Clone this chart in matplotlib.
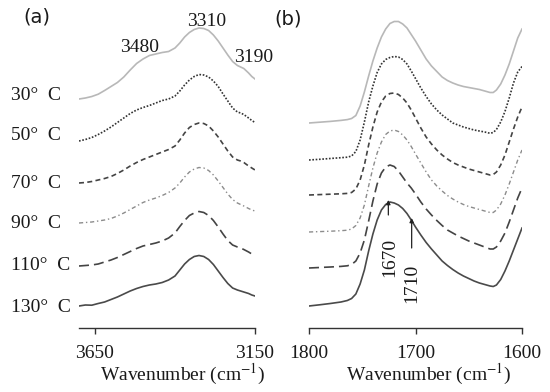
import matplotlib
matplotlib.use('Agg')
import matplotlib.pyplot as plt
import numpy as np

plt.rcParams['font.family'] = ['Liberation Serif', 'DejaVu Serif']
plt.rcParams['mathtext.fontset'] = 'stix'

# -- Data (arbitrary absorbance units) ----------------------------------------
temps = ['30°  C', '50°  C', '70°  C', '90°  C', '110°  C', '130°  C']

# (a) O-H / N-H stretching region
wn_a = [3700, 3680, 3660, 3640, 3620, 3600, 3580, 3560, 3540, 3520, 3500,
        3480, 3460, 3440, 3420, 3400, 3385, 3370, 3355, 3340, 3325, 3310,
        3295, 3280, 3265, 3250, 3235, 3220, 3205, 3195, 3185, 3170, 3160, 3150]
oh_30 = [0, 1, 2.5, 4.8, 8.5, 12.5, 16.5, 22, 29, 35.5, 40, 43.5, 45, 46.5,
         47.5, 51, 56, 62, 66.5, 69.5, 71, 70.5, 68.5, 64, 58, 51, 44, 37.5,
         33.5, 32, 30.5, 26, 22.5, 20]
oh_50 = [0, 1.5, 3.5, 6.5, 10, 14, 18.5, 23, 27.5, 31, 33.5, 35.5, 38, 40.5,
         42, 45, 50, 56, 61, 64.5, 66.5, 66, 64, 60, 54.5, 47, 40, 33, 29, 28,
         26.5, 23, 20.5, 18.5]
oh_70 = [0, 0.5, 1.5, 3, 4.5, 6.5, 9.5, 13, 17, 20.5, 23.5, 26, 28.5, 31,
         33.5, 37, 43, 50, 55.5, 58.5, 60, 59.5, 57, 52, 46, 39, 32, 26, 23,
         22, 20.5, 17, 15, 13]
oh_90 = [0, 0.5, 1, 2, 3, 4.5, 7, 10, 13.5, 17, 20.5, 23, 25, 27.5, 30.5, 35,
         40, 46, 51, 54, 55.5, 55, 52.5, 48, 42, 35.5, 29, 23.5, 20, 18.5, 17,
         14.5, 13, 12]
oh_110 = [0, 0.5, 1, 2, 4, 6, 8.5, 11.5, 14.5, 17.5, 20, 21.5, 23, 25, 28, 33,
          39.5, 45.5, 50.5, 53, 54.5, 53.5, 50.5, 45.5, 39, 32, 25.5, 21, 19,
          18, 16.5, 14, 12, 11]
oh_130 = [0, 1, 0.8, 2.5, 4, 6.5, 9, 12, 15, 17.5, 19.5, 21, 22, 23.5, 26, 30,
          36, 42, 46.5, 49.5, 50.5, 49.5, 46.5, 41.5, 35, 28.5, 22.5, 18, 16,
          15, 14, 12.5, 11, 10]

# (b) C=O stretching region
wn_b = [1800, 1790, 1780, 1770, 1764, 1760, 1756, 1752, 1748, 1744, 1740,
        1736, 1732, 1728, 1724, 1720, 1716, 1712, 1708, 1704, 1700, 1695,
        1690, 1685, 1680, 1675, 1670, 1665, 1660, 1655, 1650, 1645, 1640,
        1635, 1630, 1627, 1624, 1620, 1616, 1612, 1608, 1604, 1600]
co_30 = [0, 0.8, 1.6, 2.6, 3.4, 4.5, 7.5, 17, 31, 47, 62, 75, 86, 94, 99.5,
         101.5, 101.5, 99, 95, 88.5, 82, 73, 64, 57, 51.5, 46, 42.5, 40, 38,
         36.5, 35.5, 34.5, 33.5, 32, 30.5, 30.5, 33, 39, 48, 59, 72, 85, 94]
co_50 = [0, 0.7, 1.5, 2.3, 2.8, 4, 8.5, 20, 38, 58, 74, 87.5, 96, 100.5,
         102.5, 103.5, 103, 100.5, 96, 89, 81.5, 72, 63.5, 56, 50, 45, 41, 37,
         35, 33, 31.5, 30, 29, 28, 26.7, 27.5, 30.5, 38, 48.5, 62, 77, 88,
         93.5]
co_70 = [0, 0.4, 0.8, 1.2, 1.6, 2.5, 6, 15, 30, 50, 68, 83, 93, 99, 101.5,
         102, 100.5, 97, 92, 85, 77, 67, 58, 51, 45, 40, 36, 32.5, 30, 28, 26,
         24.5, 23, 21.5, 20, 20.5, 23, 30, 40, 53, 66, 78, 88]
co_90 = [0, 0.4, 0.8, 1.3, 1.8, 3, 6.5, 14, 27, 46, 64, 79, 90, 97.5, 101,
         102, 100.5, 97, 92, 85.5, 78, 69, 60, 52, 46, 41, 36.5, 33, 30, 27.5,
         25.5, 24, 22.5, 21, 19.5, 19.5, 22, 28, 37, 48, 60, 72, 82]
co_110 = [0, 0.5, 1, 1.6, 2.2, 3.5, 7, 15, 28, 47, 67, 84, 95, 101, 103,
          101.5, 97, 91, 85, 80, 74, 66, 59, 53, 47.5, 42.5, 38, 35, 32, 29.5,
          27, 25, 23, 21, 19, 19, 21, 27, 35, 46, 58, 70, 80]
co_130 = [0, 1.2, 2.5, 4, 5.5, 7.5, 12, 22, 36, 55, 72, 86, 96, 101.5, 104,
          103, 101, 97.5, 92.5, 86, 79, 71, 63.5, 57, 51, 45, 40.5, 36.5, 33,
          30, 27.5, 25, 23, 21.5, 20, 19.5, 21, 26.5, 35, 45, 56, 67, 78]

# -- Layout / style -----------------------------------------------------------
W, H = 550, 392
offs_a = [229, 187, 145, 105, 62, 22]
offs_b = [205, 168, 133, 96, 60, 22]
label_y = [95, 136, 183, 223, 265, 307]

styles = [
    dict(color='#b8b8b8', linestyle='-', lw=1.2),
    dict(color='#333333', linestyle=(0, (1, 1)), lw=1.2),
    dict(color='#444444', linestyle=(0, (3, 2)), lw=1.2),
    dict(color='#8c8c8c', linestyle=(0, (3, 2, 1, 2)), lw=1.0),
    dict(color='#444444', linestyle=(0, (6, 3)), lw=1.2),
    dict(color='#4a4a4a', linestyle='-', lw=1.2),
]
TEXT = '#1a1a1a'
FS = 14

fig = plt.figure(figsize=(W / 100, H / 100), dpi=100)
ax_a = fig.add_axes([79 / W, 64 / H, 176 / W, 328 / H])
ax_b = fig.add_axes([309 / W, 64 / H, 213 / W, 328 / H])

series_a = [oh_30, oh_50, oh_70, oh_90, oh_110, oh_130]
series_b = [co_30, co_50, co_70, co_90, co_110, co_130]

for ys, off, st in zip(series_a, offs_a, styles):
    ax_a.plot(wn_a, np.array(ys) + off, solid_joinstyle='round', **st)
for ys, off, st in zip(series_b, offs_b, styles):
    ax_b.plot(wn_b, np.array(ys) + off, solid_joinstyle='round', **st)

for ax, xlim, ticks, lx in [(ax_a, (3700, 3150), [3650, 3150], 0.59),
                            (ax_b, (1800, 1600), [1800, 1700, 1600], 0.56)]:
    ax.set_xlim(*xlim)
    ax.set_ylim(0, 328)
    for s in ['top', 'left', 'right']:
        ax.spines[s].set_visible(False)
    ax.spines['bottom'].set_color('#333333')
    ax.spines['bottom'].set_linewidth(1.0)
    ax.set_yticks([])
    ax.set_xticks(ticks)
    ax.tick_params(axis='x', direction='out', length=4, width=1.0,
                   color='#333333', labelsize=FS, labelcolor=TEXT, pad=8)
    ax.patch.set_alpha(0)
    ax.set_xlabel(r'Wavenumber (cm$^{-1}$)', fontsize=FS, color=TEXT)
    ax.xaxis.set_label_coords(lx, -0.105)

# peak labels, panel (a)
ax_a.text(3512, 281, '3480', fontsize=FS, color=TEXT, ha='center', va='center')
ax_a.text(3300, 306, '3310', fontsize=FS, color=TEXT, ha='center', va='center')
ax_a.text(3153, 271, '3190', fontsize=FS, color=TEXT, ha='center', va='center')

# arrows, panel (b)
arrow = dict(arrowstyle='-|>', color='#222222', lw=0.9, mutation_scale=6,
             shrinkA=0, shrinkB=0)
ax_b.annotate('', xy=(1725.5, 128), xytext=(1725.5, 113), arrowprops=arrow)
ax_b.annotate('', xy=(1703.6, 110), xytext=(1703.6, 80), arrowprops=arrow)
ax_b.text(1724, 71, '1670', fontsize=FS, color=TEXT, rotation=90,
          ha='center', va='center')
ax_b.text(1703.6, 45, '1710', fontsize=FS, color=TEXT, rotation=90,
          ha='center', va='center')

# temperature labels
for t, yc in zip(temps, label_y):
    fig.text(11 / W, 1 - yc / H, t, fontsize=FS, color=TEXT,
             ha='left', va='center')

fig.text(37 / W, 1 - 17 / H, '(a)', fontsize=FS, color=TEXT,
         ha='center', va='center', family=['DejaVu Sans'])
fig.text(288 / W, 1 - 19 / H, '(b)', fontsize=FS, color=TEXT,
         ha='center', va='center', family=['DejaVu Sans'])

fig.savefig('out.png', dpi=100)
